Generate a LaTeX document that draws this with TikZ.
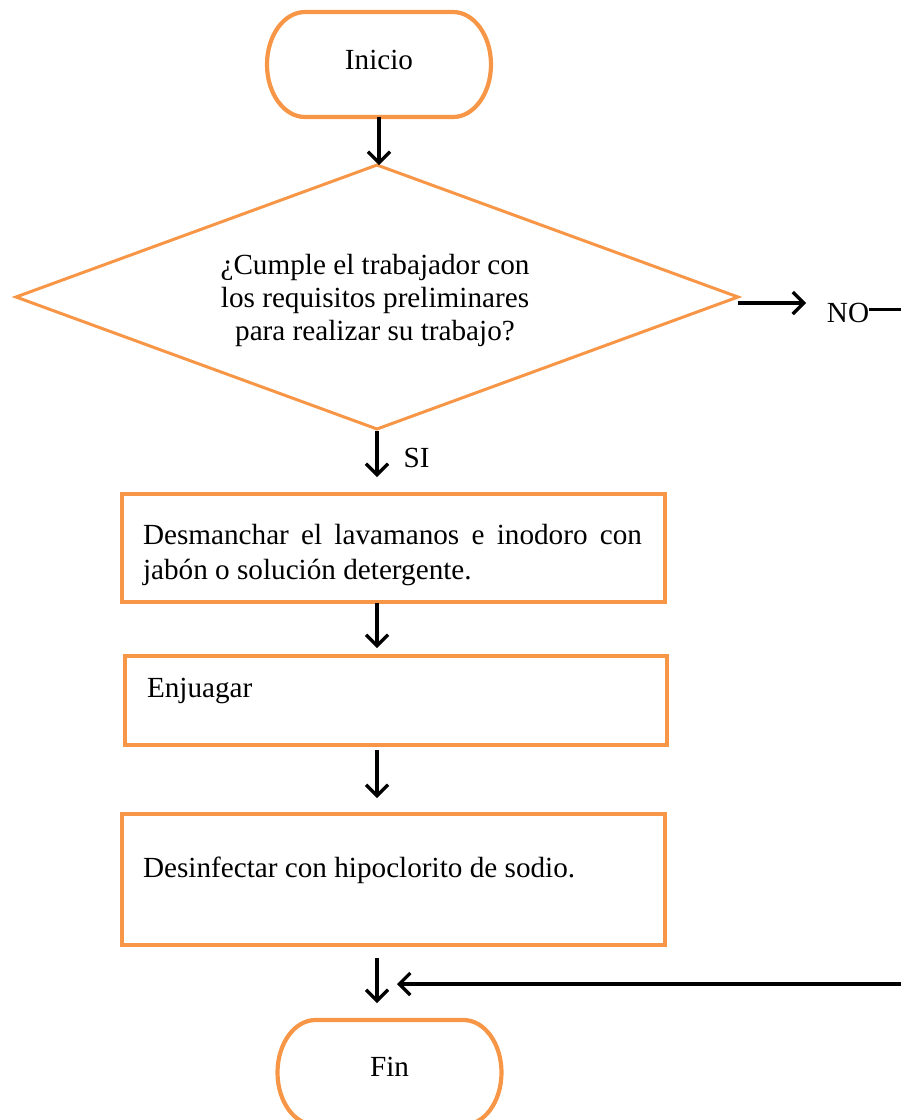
\documentclass[tikz,border=0pt]{standalone}
\usepackage{fontspec}
\setmainfont{Liberation Serif}
\usetikzlibrary{shapes.geometric,arrows.meta}
\definecolor{flowor}{RGB}{247,150,70}
\tikzset{
  base/.style={outer sep=0pt, inner sep=0pt},
  termbox/.style={base, minimum width=224pt, minimum height=105pt},
  termline/.style={draw=flowor, line width=4.2pt},
  stepbox/.style={base, draw=flowor, line width=3.4pt},
  decision/.style={base, diamond, draw=flowor, line width=3pt, align=center},
  txt/.style={base, font=\fontsize{29.2}{33}\selectfont},
  arr/.style={draw=black, line width=3.2pt, -{Straight Barb[length=11pt,width=22pt,line width=3.2pt]}},
  plain/.style={draw=black, line width=3pt},
}
% stadium outline around a terminal node: #1 node name, #2 end radius
\newcommand\stadiumpath[2]{%
  \path[termline] ([xshift=#2]#1.north west) -- ([xshift=-#2]#1.north east)
    arc[start angle=90, end angle=-90, x radius=#2, y radius=52.5pt]
    -- ([xshift=#2]#1.south west)
    arc[start angle=270, end angle=90, x radius=#2, y radius=52.5pt] -- cycle;}
\begin{document}
\begin{tikzpicture}[x=1pt, y=-1pt]
\useasboundingbox (0,0) rectangle (901,1120);

% terminals
\node[termbox] (inicio) at (379,64.5) {};
\stadiumpath{inicio}{38pt}
\node[txt] (inicioT) at (379,59.5) {Inicio};

\node[termbox] (fin) at (389.5,1072.5) {};
\stadiumpath{fin}{38pt}
\node[txt] (finT) at (389.5,1067) {Fin};

% decision
\node[decision, minimum width=722pt, minimum height=264pt] (q) at (377,297) {};
\node[txt, align=center] (qT) at (375,300)
  {¿Cumple el trabajador con\\los requisitos preliminares\\para realizar su trabajo?};

% process steps
\node[stepbox, minimum width=543pt, minimum height=108pt] (b1) at (393.5,548) {};
\node[txt, anchor=base west] (b1a) at (143,544)
  {\makebox[499pt][s]{Desmanchar el lavamanos e inodoro con}};
\node[txt, anchor=base west] (b1b) at (143,579) {jabón o solución detergente.};

\node[stepbox, minimum width=542pt, minimum height=89pt] (b2) at (396,700.5) {};
\node[txt, anchor=base west] (b2a) at (147,697) {Enjuagar};

\node[stepbox, minimum width=543pt, minimum height=131pt] (b3) at (393.5,879.5) {};
\node[txt, anchor=base west] (b3a) at (143,877) {Desinfectar con hipoclorito de sodio.};

% branch labels
\node[txt] (si) at (416.5,458) {SI};
\node[txt] (no) at (848,313) {NO};
\coordinate (noTip) at (806,303);
\coordinate (noOut) at (901,309);
\coordinate (retIn) at (901,984);
\coordinate (retTip) at (397,984);

% connectors
\draw[arr] (inicio.south) -- (inicio.south |- q.north);
\draw[arr, shorten <=2pt, shorten >=17pt] (q.south) -- (q.south |- b1.north);
\draw[arr, shorten <=1pt, shorten >=8pt] (b1.south -| q.south) -- (b2.north -| q.south);
\draw[arr, shorten <=5pt, shorten >=16pt] (b2.south -| q.south) -- (b3.north -| q.south);
\draw[arr, shorten <=13pt, shorten >=17pt] (b3.south -| q.south) -- (fin.north -| q.south);
\draw[arr] (q.east |- noTip) -- (noTip);
\draw[plain] (no.east |- noOut) -- (noOut);
\draw[arr] (retIn) -- (retTip);
\end{tikzpicture}
\end{document}
